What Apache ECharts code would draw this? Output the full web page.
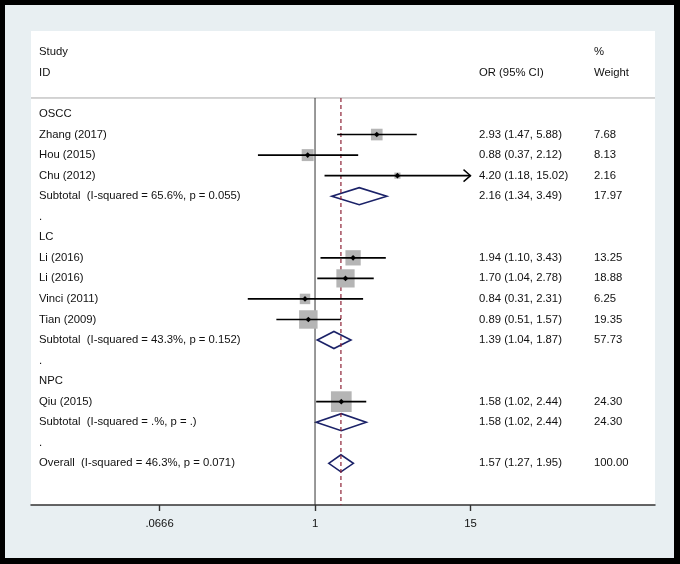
<!DOCTYPE html>
<html>
<head>
<meta charset="utf-8">
<script src="https://cdn.jsdelivr.net/npm/echarts@6/dist/echarts.min.js"></script>
<style>
html, body { margin: 0; padding: 0; background: #000; }
#main { position: absolute; left: 5px; top: 5px; width: 669px; height: 553px; }
</style>
</head>
<body>
<div id="main"></div>
<script>
// rows of the forest plot, top to bottom
var rowLabels = ['OSCC', 'Zhang (2017)', 'Hou (2015)', 'Chu (2012)',
    'Subtotal  (I-squared = 65.6%, p = 0.055)', '.',
    'LC', 'Li (2016)', 'Li (2016)', 'Vinci (2011)', 'Tian (2009)',
    'Subtotal  (I-squared = 43.3%, p = 0.152)', '.',
    'NPC', 'Qiu (2015)', 'Subtotal  (I-squared = .%, p = .)', '.',
    'Overall  (I-squared = 46.3%, p = 0.071)'];
var rowType = ['group', 'study', 'study', 'study', 'pooled', 'gap',
    'group', 'study', 'study', 'study', 'study', 'pooled', 'gap',
    'group', 'study', 'pooled', 'gap', 'pooled'];
var orValues = [null, 2.93, 0.88, 4.20, 2.16, null, null, 1.94, 1.70, 0.84, 0.89, 1.39, null, null, 1.58, 1.58, null, 1.57];
var ciLower  = [null, 1.47, 0.37, 1.18, 1.34, null, null, 1.10, 1.04, 0.31, 0.51, 1.04, null, null, 1.02, 1.02, null, 1.27];
var ciUpper  = [null, 5.88, 2.12, 15.02, 3.49, null, null, 3.43, 2.78, 2.31, 1.57, 1.87, null, null, 2.44, 2.44, null, 1.95];
var weights  = [null, 7.68, 8.13, 2.16, 17.97, null, null, 13.25, 18.88, 6.25, 19.35, 57.73, null, null, 24.30, 24.30, null, 100.00];

var headerLeft = ['Study', 'ID'];
var headerOr = ['', 'OR (95% CI)'];
var headerWeight = ['%', 'Weight'];

var tickValues = [1 / 15, 1, 15];
var tickLabels = ['.0666', '1', '15'];

var overallOR = orValues[orValues.length - 1];

var FONT = '11.3px "Liberation Sans", Arial, sans-serif';
var TEXT_COLOR = '#111';
var colX = [8, 448, 563];   // text columns, offset from plot left
var lineTopRow = -0.78;     // header rule

var myChart = echarts.init(document.getElementById('main'));

function textEl(x, y, str) {
    return {
        type: 'text',
        style: { text: str, x: x, y: y, fill: TEXT_COLOR, font: FONT, verticalAlign: 'middle', align: 'left' }
    };
}

var textData = [[1, -3], [1, -2]];
var studyData = [];
var pooledData = [];
for (var i = 0; i < rowLabels.length; i++) {
    textData.push([1, i]);
    if (rowType[i] === 'study') {
        studyData.push([orValues[i], i, ciLower[i], ciUpper[i], weights[i]]);
    } else if (rowType[i] === 'pooled') {
        pooledData.push([orValues[i], i, ciLower[i], ciUpper[i]]);
    }
}

var option = {
    backgroundColor: '#e8eff2',
    animation: false,
    grid: {
        left: 26, top: 26, right: 19, bottom: 53,
        show: true, backgroundColor: '#fff', borderWidth: 0
    },
    xAxis: {
        type: 'log',
        min: 0.00711,
        max: 372.6,
        splitLine: { show: false },
        axisLine: { onZero: false, lineStyle: { color: '#333', width: 1.5 } },
        axisTick: { length: 6, customValues: tickValues, lineStyle: { color: '#333', width: 1.4 } },
        axisLabel: {
            customValues: tickValues,
            margin: 13,
            color: TEXT_COLOR,
            fontSize: 11.3,
            fontFamily: '"Liberation Sans", Arial, sans-serif',
            formatter: function (v) {
                for (var k = 0; k < tickValues.length; k++) {
                    if (Math.abs(Math.log(v) - Math.log(tickValues[k])) < 1e-6) return tickLabels[k];
                }
                return '';
            }
        }
    },
    yAxis: {
        type: 'value',
        inverse: true,
        min: -4.04,
        max: 19.03,
        show: false
    },
    series: [
        {
            // pooled diamonds
            type: 'custom',
            z: 1,
            clip: false,
            encode: { x: 0, y: 1 },
            data: pooledData,
            renderItem: function (params, api) {
                var row = api.value(1);
                var c = api.coord([api.value(0), row]);
                var lo = api.coord([api.value(2), row]);
                var hi = api.coord([api.value(3), row]);
                var h = 8.5;
                return {
                    type: 'polygon',
                    shape: { points: [[lo[0], c[1]], [c[0], c[1] - h], [hi[0], c[1]], [c[0], c[1] + h]] },
                    style: { fill: '#fff', stroke: '#1b2268', lineWidth: 1.6 }
                };
            }
        },
        {
            // reference lines: header rule, null line, overall estimate
            type: 'custom',
            z: 2,
            clip: false,
            encode: { x: 0, y: 1 },
            data: [[1, lineTopRow, 0], [overallOR, lineTopRow, 1]],
            renderItem: function (params, api) {
                var cs = params.coordSys;
                var top = api.coord([api.value(0), api.value(1)]);
                var bottom = cs.y + cs.height;
                var kids = [];
                if (api.value(2) === 0) {
                    kids.push({
                        type: 'line',
                        shape: { x1: cs.x, y1: top[1], x2: cs.x + cs.width, y2: top[1] },
                        style: { stroke: '#a9a9a9', lineWidth: 1 }
                    });
                    kids.push({
                        type: 'line',
                        shape: { x1: top[0], y1: top[1], x2: top[0], y2: bottom },
                        style: { stroke: '#333', lineWidth: 1 }
                    });
                } else {
                    kids.push({
                        type: 'line',
                        shape: { x1: top[0], y1: top[1], x2: top[0], y2: bottom },
                        style: { stroke: '#8e2236', lineWidth: 1.2, lineDash: [4, 3] }
                    });
                }
                return { type: 'group', children: kids };
            }
        },
        {
            // study boxes, CIs and point estimates
            type: 'custom',
            z: 3,
            clip: false,
            encode: { x: 0, y: 1 },
            data: studyData,
            renderItem: function (params, api) {
                var row = api.value(1);
                var est = api.value(0), lo = api.value(2), hi = api.value(3), w = api.value(4);
                var c = api.coord([est, row]);
                var a = api.coord([Math.max(lo, tickValues[0]), row]);
                var b = api.coord([Math.min(hi, tickValues[2]), row]);
                var side = 4.2 * Math.sqrt(w);
                var kids = [
                    {
                        type: 'rect',
                        shape: { x: c[0] - side / 2, y: c[1] - side / 2, width: side, height: side },
                        style: { fill: '#b5b5b5' }
                    },
                    {
                        type: 'line',
                        shape: { x1: a[0], y1: a[1], x2: b[0], y2: b[1] },
                        style: { stroke: '#000', lineWidth: 1.6 }
                    }
                ];
                if (hi > tickValues[2]) {
                    kids.push({
                        type: 'polyline',
                        shape: { points: [[b[0] - 7, b[1] - 6], [b[0], b[1]], [b[0] - 7, b[1] + 6]] },
                        style: { stroke: '#000', lineWidth: 1.4, fill: null }
                    });
                }
                if (lo < tickValues[0]) {
                    kids.push({
                        type: 'polyline',
                        shape: { points: [[a[0] + 7, a[1] - 6], [a[0], a[1]], [a[0] + 7, a[1] + 6]] },
                        style: { stroke: '#000', lineWidth: 1.4, fill: null }
                    });
                }
                kids.push({
                    type: 'polygon',
                    shape: { points: [[c[0] - 2.8, c[1]], [c[0], c[1] - 2.8], [c[0] + 2.8, c[1]], [c[0], c[1] + 2.8]] },
                    style: { fill: '#000' }
                });
                return { type: 'group', children: kids };
            }
        },
        {
            // text columns
            type: 'custom',
            z: 4,
            clip: false,
            silent: true,
            encode: { x: 0, y: 1 },
            data: textData,
            renderItem: function (params, api) {
                var r = api.value(1);
                var y = api.coord([1, r])[1];
                var x0 = params.coordSys.x;
                var kids = [];
                if (r < 0) {
                    var h = r + 3;
                    kids.push(textEl(x0 + colX[0], y, headerLeft[h]));
                    kids.push(textEl(x0 + colX[1], y, headerOr[h]));
                    kids.push(textEl(x0 + colX[2], y, headerWeight[h]));
                } else {
                    kids.push(textEl(x0 + colX[0], y, rowLabels[r]));
                    if (orValues[r] != null) {
                        var s = orValues[r].toFixed(2) + ' (' + ciLower[r].toFixed(2) + ', ' + ciUpper[r].toFixed(2) + ')';
                        kids.push(textEl(x0 + colX[1], y, s));
                        kids.push(textEl(x0 + colX[2], y, weights[r].toFixed(2)));
                    }
                }
                return { type: 'group', children: kids };
            }
        }
    ]
};
myChart.setOption(option);
</script>
</body>
</html>
